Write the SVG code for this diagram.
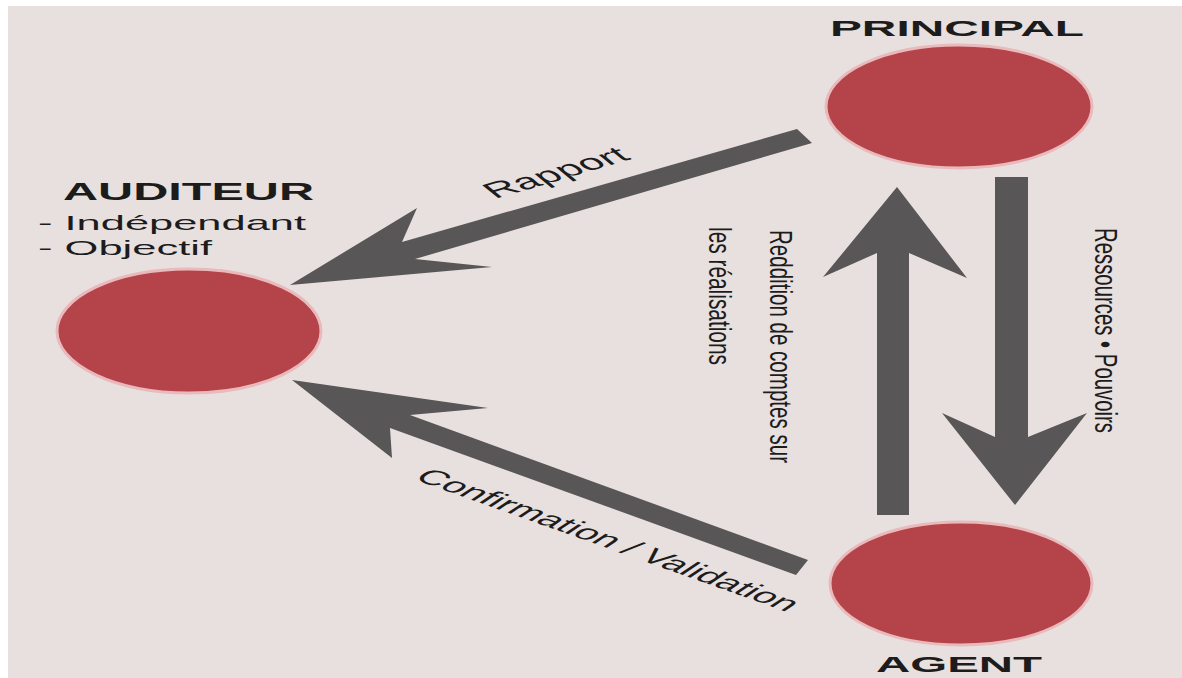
<svg xmlns="http://www.w3.org/2000/svg" width="1182" height="678" viewBox="0 0 1182 678">
  <style>
    .node { fill: #b4434a; stroke: #eab9bb; stroke-width: 3; }
    .arrow { fill: #585656; }
    .title { font-family: "Liberation Sans", Arial, sans-serif; font-weight: bold; fill: #1c1c1c; }
    .lbl { font-family: "Liberation Sans", Arial, sans-serif; fill: #1c1c1c; }
  </style>
  <rect x="0" y="0" width="1182" height="678" fill="#ffffff"/>
  <rect x="8" y="6" width="1174" height="672" fill="#e8e0df"/>

  <g id="connectors">
    <polygon id="rapport" class="arrow" points="290,285 417,208 402,242 797,129 812,143 415,259 492,267"/>
    <polygon id="confirmation" class="arrow" points="292,380 488,408 410,415 808,560 796,575 390,428 392,458"/>
    <polygon id="reddition" class="arrow" points="897,187 967,278 909,253 909,515 877,515 877,253 823,277"/>
    <polygon id="ressources" class="arrow" points="995,177 1028,177 1028,437 1087,413 1015,505 942,413 995,437"/>
    <text class="lbl" font-size="21.9" textLength="77.9" lengthAdjust="spacingAndGlyphs" transform="translate(495,199) scale(2.05,1) rotate(-30.9)">Rapport</text>
    <text class="lbl" font-size="20.7" textLength="225.7" lengthAdjust="spacingAndGlyphs" transform="translate(413,479) scale(2.05,1) rotate(36.1)">Confirmation / Validation</text>
    <text class="lbl" font-size="20.5" textLength="233" lengthAdjust="spacingAndGlyphs" transform="translate(770,230) scale(1.5,1) rotate(90)">Reddition de comptes sur</text>
    <text class="lbl" font-size="21" textLength="138" lengthAdjust="spacingAndGlyphs" transform="translate(709,227) scale(1.5,1) rotate(90)">les réalisations</text>
    <text class="lbl" font-size="20.3" textLength="205" lengthAdjust="spacingAndGlyphs" transform="translate(1095,228) scale(1.5,1) rotate(90)">Ressources • Pouvoirs</text>
  </g>

  <g id="principal">
    <ellipse class="node" cx="959" cy="106.5" rx="133" ry="61.5"/>
    <text class="title" x="830" y="36" font-size="22" textLength="254" lengthAdjust="spacingAndGlyphs">PRINCIPAL</text>
  </g>

  <g id="auditeur">
    <ellipse class="node" cx="189" cy="331" rx="132" ry="62"/>
    <text class="title" x="63" y="200" font-size="24" textLength="251" lengthAdjust="spacingAndGlyphs">AUDITEUR</text>
    <text class="lbl" x="38" y="230" font-size="21" textLength="268" lengthAdjust="spacingAndGlyphs">- Indépendant</text>
    <text class="lbl" x="38" y="255" font-size="21" textLength="174" lengthAdjust="spacingAndGlyphs">- Objectif</text>
  </g>

  <g id="agent">
    <ellipse class="node" cx="961" cy="583.5" rx="131" ry="61.5"/>
    <text class="title" x="876" y="672" font-size="22" textLength="166" lengthAdjust="spacingAndGlyphs">AGENT</text>
  </g>
</svg>
